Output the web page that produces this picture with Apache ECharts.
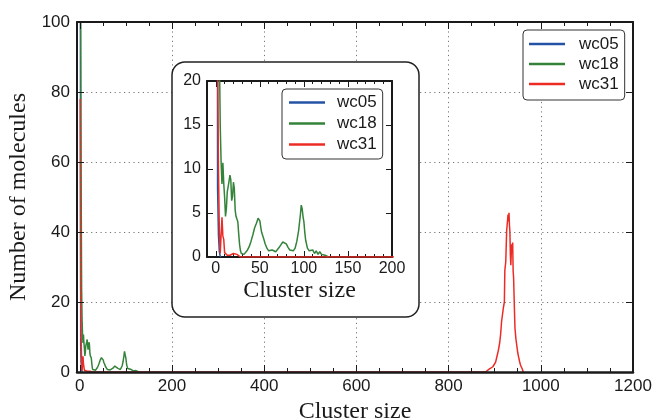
<!DOCTYPE html>
<html>
<head>
<meta charset="utf-8">
<script src="https://cdn.jsdelivr.net/npm/echarts@6/dist/echarts.min.js"></script>
<style>
  html, body { margin: 0; padding: 0; background: #fff; }
  #chart { width: 654px; height: 419px; }
</style>
</head>
<body>
<div id="chart"></div>
<script>
const seriesNames = ["wc05", "wc18", "wc31"];
const seriesColors = ["#2453a6", "#34833a", "#ed2b25"];

const sizes05 = [1, 2, 3, 4, 5, 6];
const counts05 = [160, 7.8, 2.5, 0.6, 0.1, 0];

const sizes18 = [1, 2, 3, 4, 5, 6, 7, 8, 9, 10, 11, 12, 13, 14, 15, 16, 17, 18, 19, 20,
  21, 22, 23, 24, 25, 26, 27, 28, 29, 30, 32, 34, 36, 38, 40, 42, 44, 46, 47, 48,
  49, 50, 51, 52, 54, 56, 58, 60, 62, 64, 66, 68, 70, 72, 74, 76, 77, 78, 80, 82,
  84, 86, 88, 90, 92, 94, 96, 97, 98, 99, 100, 101, 102, 104, 106, 108, 110, 112, 114, 116,
  118, 120, 122, 124, 126, 128];
const counts18 = [190, 100, 53, 24, 15, 10.8, 8.3, 10.7, 8.4, 6.8, 4.6, 5.5, 7.4, 7.2, 8.6, 9.3, 8.8, 6.4, 6.9, 8.5,
  7.8, 5.3, 4.6, 4.5, 4.0, 2.6, 1.4, 0.7, 0.4, 0.2, 0.3, 0.5, 0.8, 1.2, 1.8, 2.5, 3.3, 3.8, 4.1, 4.4,
  4.5, 4.1, 3.4, 2.8, 2.2, 1.5, 1.0, 0.7, 0.6, 0.8, 0.6, 0.6, 0.5, 1.1, 1.4, 1.7, 1.9, 1.8, 1.5, 1.1,
  0.8, 0.9, 0.7, 1.0, 1.8, 3.0, 4.8, 5.9, 5.5, 4.6, 4.0, 2.8, 1.9, 1.0, 0.7, 0.5, 0.8, 0.4, 0.7, 0.3,
  0.6, 0.3, 0.4, 0.2, 0.1, 0];

const sizes31 = [1, 2, 3, 4, 5, 6, 7, 8, 9, 10, 11, 12, 13, 14, 16, 18, 20, 22, 24, 26,
  28, 880, 884, 888, 892, 896, 899, 902, 905, 908, 911, 913, 915, 917, 919, 921, 922, 924, 926, 928,
  929, 930, 931, 932, 933, 934, 935, 936, 937, 938, 939, 940, 941, 942, 943, 944, 946, 948, 950, 952,
  954, 956, 958, 960, 962];
const counts31 = [78, 24, 10, 3, 0.4, 0.3, 4.5, 2.4, 2.0, 0.5, 0.3, 0.6, 0.2, 0.4, 0.2, 0.3, 0.4, 0.2, 0.3, 0.1,
  0, 0, 0.3, 0.8, 1.0, 1.5, 1.8, 2.8, 4.5, 6.2, 8.5, 11.0, 14.5, 16.5, 18.5, 20.0, 29.0, 31.5, 40.5, 43.5,
  45.0, 43.0, 45.5, 42.0, 40.0, 33.5, 30.5, 34.0, 36.5, 35.0, 37.0, 29.0, 27.0, 22.0, 17.0, 12.5, 9.5, 7.5, 5.5, 4.2,
  3.0, 2.0, 1.5, 0.8, 0];

const sizeLists = [sizes05, sizes18, sizes31];
const countLists = [counts05, counts18, counts31];

const sansFont = "Liberation Sans, Arial, sans-serif";
const serifFont = "Liberation Serif, Times New Roman, serif";
const ink = "#1a1a1a";

function pairs(xs, ys) {
  return xs.map((x, i) => [x, ys[i]]);
}

// axes live on the upper canvas layer so the frame hides lines lying on zero
function frameAxis(extra) {
  return Object.assign({
    type: "value",
    axisLine: { show: true, onZero: false, lineStyle: { color: ink, width: 2 } },
    axisTick: { show: true, inside: true, length: 7, lineStyle: { color: ink, width: 1 } },
    axisLabel: { show: false },
    splitLine: { show: false },
    zlevel: 1,
    z: 3,
  }, extra);
}

const mainLabel = { margin: 6, fontSize: 17, color: ink, fontFamily: sansFont };
const insetLabel = { margin: 4, fontSize: 16, color: ink, fontFamily: sansFont };
const gridDots = { show: true, lineStyle: { color: "#666", type: [1.2, 3.5], width: 0.9 } };
const titleStyle = { fontFamily: serifFont, fontSize: 24, color: ink };

const chart = echarts.init(document.getElementById("chart"));

const series = [];
[0, 1].forEach((g) => {
  seriesNames.forEach((name, i) => {
    series.push({
      name,
      type: "line",
      xAxisIndex: g * 2,
      yAxisIndex: g * 2,
      data: pairs(sizeLists[i], countLists[i]),
      showSymbol: false,
      symbol: "none",
      clip: true,
      lineStyle: { width: 1.5, color: seriesColors[i] },
      itemStyle: { color: seriesColors[i] },
      zlevel: g ? 1 : 0,
      z: g ? 6 : 2,
    });
  });
});

const legendBase = {
  orient: "vertical",
  data: seriesNames,
  icon: "rect",
  itemWidth: 36,
  itemHeight: 2.5,
  itemGap: 0,
  backgroundColor: "#fff",
  borderColor: "#333",
  borderWidth: 1,
  borderRadius: 4,
  zlevel: 1,
  z: 8,
};

const option = {
  animation: false,
  backgroundColor: "#fff",
  grid: [
    { left: 77, right: 21, top: 22, bottom: 47, outerBoundsMode: "none", containLabel: false },
    { left: 207, right: 262, top: 81, bottom: 162, outerBoundsMode: "none", containLabel: false },
  ],
  legend: [
    Object.assign({}, legendBase, {
      left: 523, top: 30,
      padding: [4, 6, 6, 6],
      textStyle: { fontSize: 17, color: ink, fontFamily: sansFont, lineHeight: 20, padding: [0, 0, 0, 9] },
    }),
    Object.assign({}, legendBase, {
      left: 282, top: 89,
      padding: [3, 6, 4, 7],
      textStyle: { fontSize: 17, color: ink, fontFamily: sansFont, lineHeight: 21, padding: [0, 0, 0, 7] },
    }),
  ],
  graphic: [
    {
      type: "rect",
      zlevel: 1,
      z: 4,
      shape: { x: 172, y: 62, width: 247, height: 255, r: 13 },
      style: { fill: "#fff", stroke: "#222", lineWidth: 1.5 },
    },
  ],
  xAxis: [
    frameAxis({
      gridIndex: 0, position: "bottom", min: -6, max: 1200, splitNumber: 6,
      axisLine: { show: true, onZero: false, lineStyle: { color: ink, width: 2.5 } },
      minorTick: { show: true, splitNumber: 4, length: 4, lineStyle: { color: ink, width: 1 } },
      axisLabel: Object.assign({ show: true, showMinLabel: false, formatter: (v) => (v % 200 === 0 ? String(v) : "") }, mainLabel),
      splitLine: gridDots,
      name: "Cluster size", nameLocation: "middle", nameGap: 26, nameTextStyle: titleStyle,
    }),
    frameAxis({
      gridIndex: 0, position: "top", min: -6, max: 1200, splitNumber: 6,
      minorTick: { show: true, splitNumber: 4, length: 4, lineStyle: { color: ink, width: 1 } },
    }),
    frameAxis({
      gridIndex: 1, position: "bottom", min: -10, max: 200, splitNumber: 4, z: 5,
      axisTick: { show: true, inside: true, length: 6, lineStyle: { color: ink, width: 1 } },
      minorTick: { show: true, splitNumber: 5, length: 3, lineStyle: { color: ink, width: 1 } },
      axisLabel: Object.assign({ show: true, showMinLabel: false, formatter: (v) => (v % 50 === 0 ? String(v) : "") }, insetLabel),
      name: "Cluster size", nameLocation: "middle", nameGap: 22, nameTextStyle: titleStyle,
    }),
    frameAxis({
      gridIndex: 1, position: "top", min: -10, max: 200, splitNumber: 4, z: 5,
      axisTick: { show: true, inside: true, length: 6, lineStyle: { color: ink, width: 1 } },
      minorTick: { show: true, splitNumber: 5, length: 3, lineStyle: { color: ink, width: 1 } },
    }),
  ],
  yAxis: [
    frameAxis({
      gridIndex: 0, position: "left", min: 0, max: 100, interval: 20,
      axisLabel: Object.assign({ show: true }, mainLabel, { margin: 7 }),
      splitLine: gridDots,
      name: "Number of molecules", nameLocation: "middle", nameGap: 35, nameRotate: 90, nameTextStyle: titleStyle,
    }),
    frameAxis({ gridIndex: 0, position: "right", min: 0, max: 100, interval: 20 }),
    frameAxis({
      gridIndex: 1, position: "left", min: 0, max: 20, interval: 5, z: 5,
      axisTick: { show: true, inside: true, length: 6, lineStyle: { color: ink, width: 1 } },
      axisLabel: Object.assign({ show: true }, insetLabel, { margin: 6 }),
    }),
    frameAxis({
      gridIndex: 1, position: "right", min: 0, max: 20, interval: 5, z: 5,
      axisTick: { show: true, inside: true, length: 6, lineStyle: { color: ink, width: 1 } },
    }),
  ],
  series,
};

chart.setOption(option);
</script>
</body>
</html>
